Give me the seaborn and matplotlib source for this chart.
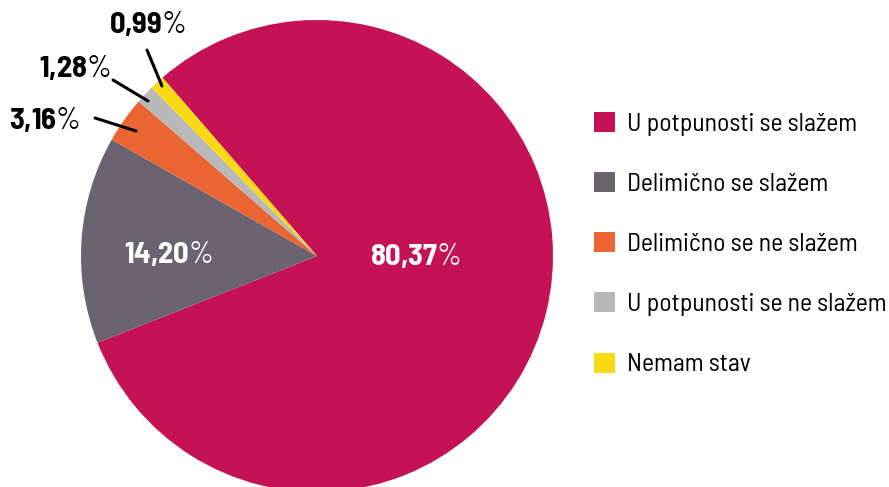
import matplotlib
matplotlib.use("Agg")
import matplotlib.pyplot as plt
import seaborn as sns

categories = ["U potpunosti se slažem", "Delimično se slažem", "Delimično se ne slažem",
              "U potpunosti se ne slažem", "Nemam stav"]
values = [80.37, 14.20, 3.16, 1.28, 0.99]
value_labels = ["80,37", "14,20", "3,16", "1,28", "0,99"]
colors = ["#C41254", "#6B6470", "#EA6531", "#B8B8B8", "#FADA16"]

sns.set_theme(style="white")
fam = "Barlow Semi Condensed"
plt.rcParams["font.family"] = [fam, "DejaVu Sans"]
plt.rcParams["mathtext.fontset"] = "custom"
plt.rcParams["mathtext.bf"] = fam + ":bold"
plt.rcParams["mathtext.rm"] = fam

fig = plt.figure(figsize=(8.89, 4.87), dpi=100)
W, H = 889, 487
cx, cy, r = 317, 256, 236
ax = fig.add_axes([(cx - r) / W, (H - cy - r) / H, 2 * r / W, 2 * r / H])

wedges, _ = ax.pie(values, colors=sns.color_palette(colors), startangle=130.9,
                   counterclock=False, radius=1,
                   wedgeprops=dict(linewidth=0))
ax.set_xlim(-1, 1)
ax.set_ylim(-1, 1)
ax.set_aspect("equal")
ax.axis("off")

def px(x, y):
    # pixel position -> data coords of pie axes
    return ((x - cx) / r, (cy - y) / r)

def lab(i):
    return r"$\mathbf{" + value_labels[i].replace(",", "{,}") + r"}$%"

LS = 22
# inside labels
ax.text(*px(415, 257), lab(0), color="white", fontsize=LS, ha="center", va="center")
ax.text(*px(168, 254), lab(1), color="white", fontsize=LS, ha="center", va="center")

# outside labels with leader lines
outside = [
    (2, (95, 118), (136, 131), (45, 120)),
    (3, (113, 80), (148, 101), (75, 68)),
    (4, (147, 50), (162, 86), (147, 25)),
]
for i, p0, p1, t in outside:
    ax.annotate("", xy=px(*p1), xytext=px(*p0),
                arrowprops=dict(arrowstyle="-", color="black", lw=2.2, shrinkA=0, shrinkB=0),
                annotation_clip=False)
    ax.text(*px(*t), lab(i), color="black", fontsize=LS, ha="center", va="center")

leg = fig.legend(wedges, categories, loc="upper left", bbox_to_anchor=(594 / W, 1 - 112 / H),
                 frameon=False, fontsize=18.5, handlelength=0.82, handleheight=0.82,
                 labelspacing=1.41, handletextpad=0.47, borderpad=0, borderaxespad=0)
for t in leg.get_texts():
    t.set_color("black")

fig.savefig("out.png", dpi=100)
